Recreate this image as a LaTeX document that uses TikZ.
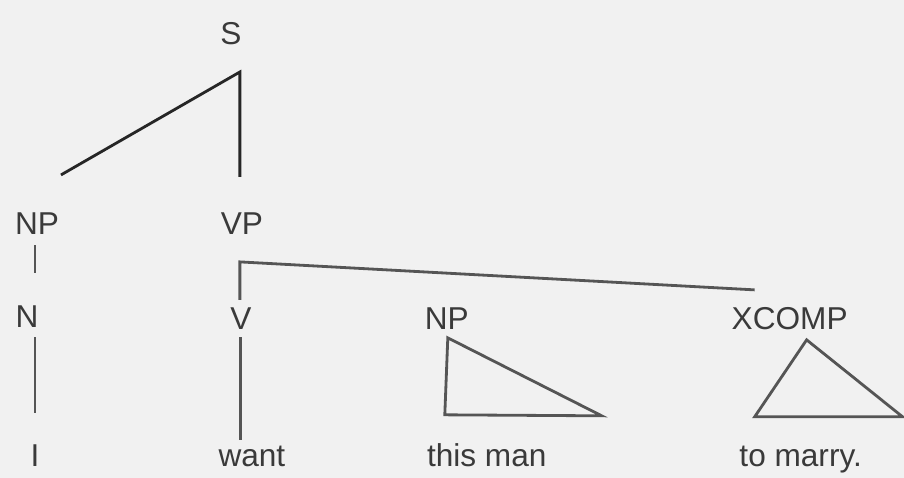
\documentclass[tikz,border=0pt]{standalone}
\usepackage{fontspec}
\setmainfont{Liberation Sans}
\definecolor{paper}{HTML}{F1F1F1}
\definecolor{ink}{HTML}{3A3A3A}
\definecolor{lineink}{HTML}{555555}
\begin{document}
\begin{tikzpicture}[
					x=0.02cm,y=-0.02cm,
					lbl/.style={anchor=base,inner sep=0pt,text=ink,font=\fontsize{18}{20}\selectfont},
					sline/.style={draw=black!85,line width=1.6pt},
					tline/.style={draw=lineink,line width=1.6pt}
					]
					\fill[paper] (0,0) rectangle (904,478);
					% labels, placed on their baselines
					\foreach \nm/\x/\y/\txt in {s/231/45/S,np/37/235/NP,vp/242/235/VP,
						n/27/328/N,v/241/330/V,obj/447/330/NP,xc/790/330/XCOMP,
						i/35/467/I,want/252/467/want,man/487/467/this man,marry/801/467/to marry.}{
						\node[lbl] (\nm) at (\x,\y) {\txt};
					}
					% branch ends
					\coordinate (s-j) at (240,72);
					\coordinate (np-j) at (61,175);
					\coordinate (vp-j) at (240,177);
					\coordinate (vp-k) at (240,262);
					\coordinate (v-j) at (240,300);
					\coordinate (xc-j) at (755,290);
					\draw[sline] (np-j) -- (s-j) -- (vp-j);
					\draw[tline] (v-j) -- (vp-k) -- (xc-j);
					\draw[tline] (np.south -| i) ++(0,10) -- ++(0,28);
					\draw[tline] (n.south -| i) ++(0,9) -- ++(0,76);
					\draw[tline] (v.south) ++(0,7) -- ++(0,103);
					% triangles
					\draw[tline] (448,338) -- (445,415) -- (602,416) -- cycle;
					\draw[tline] (807,340) -- (755,417) -- (903,417) -- cycle;
				\end{tikzpicture}
\end{document}
